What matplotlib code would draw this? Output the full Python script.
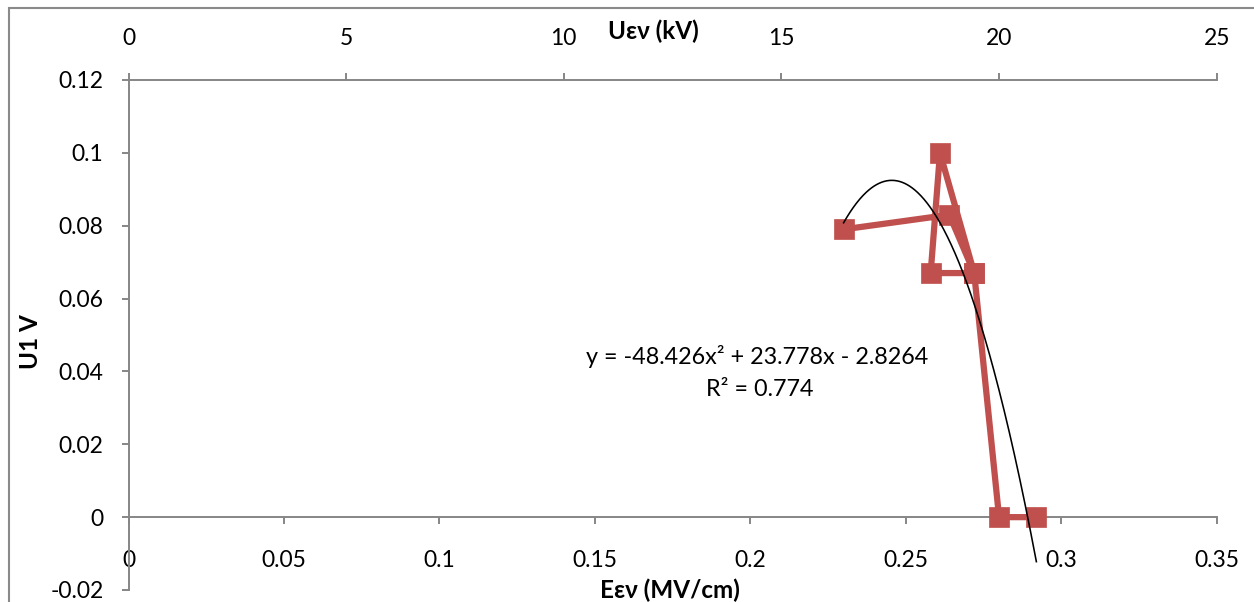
import matplotlib
matplotlib.use("Agg")
import matplotlib.pyplot as plt
import numpy as np
from matplotlib.patches import Rectangle

# Measured field strength (MV/cm) and U1 response (V), in acquisition order
e_field = [0.230, 0.264, 0.272, 0.261, 0.258, 0.272, 0.280, 0.292]
u1 = [0.079, 0.083, 0.067, 0.100, 0.067, 0.067, 0.000, 0.000]

# Second-order polynomial trend (coefficients as reported)
trend_a, trend_b, trend_c = -48.426, 23.778, -2.8264
trend_r2 = 0.774

x_ticks = [0, 0.05, 0.1, 0.15, 0.2, 0.25, 0.3, 0.35]
x_tick_labels = ["0", "0.05", "0.1", "0.15", "0.2", "0.25", "0.3", "0.35"]
y_ticks = [-0.02, 0, 0.02, 0.04, 0.06, 0.08, 0.1, 0.12]
y_tick_labels = ["-0.02", "0", "0.02", "0.04", "0.06", "0.08", "0.1", "0.12"]
top_ticks = [0, 5, 10, 15, 20, 25]
top_tick_labels = ["0", "5", "10", "15", "20", "25"]

FONT = ["Lato", "DejaVu Sans"]
plt.rcParams["font.family"] = FONT
FS = 16.5
FS_BOLD = 17.5

W, H = 1254, 602
fig = plt.figure(figsize=(W / 100, H / 100), dpi=100)

# chart frame
fig.patches.append(Rectangle((9 / W, -0.1), 1.2, 1 - 8 / H + 0.1,
                             transform=fig.transFigure, fill=False,
                             edgecolor="#8a8a8a", linewidth=1.5))

x0, x1 = 128.5, 1216.7
y_top, y_bot = 80, 590
ax = fig.add_axes([x0 / W, 1 - y_bot / H, (x1 - x0) / W, (y_bot - y_top) / H])
ax.patch.set_alpha(0)

AXC = "#868686"
series_color = "#C0504D"

ax.plot(e_field, u1, color=series_color, linewidth=4.5, marker="s",
        markersize=14, markeredgewidth=0.5, markeredgecolor=series_color,
        solid_joinstyle="round", zorder=3)

xt = np.linspace(min(e_field), max(e_field), 300)
yt = trend_a * xt ** 2 + trend_b * xt + trend_c
ax.plot(xt, yt, color="black", linewidth=1.15, zorder=4)

ax.set_xlim(0, 0.35)
ax.set_ylim(-0.02, 0.12)
ax.set_xticks(x_ticks)
ax.set_xticklabels(x_tick_labels)
ax.set_yticks(y_ticks)
ax.set_yticklabels(y_tick_labels)

for s in ["top", "right"]:
    ax.spines[s].set_visible(False)
ax.spines["bottom"].set_position(("data", 0))
for s in ["left", "bottom"]:
    ax.spines[s].set_color(AXC)
    ax.spines[s].set_linewidth(1.4)
ax.tick_params(axis="both", direction="out", length=5, width=1.4, color=AXC,
               labelsize=FS, labelcolor="black")
ax.tick_params(axis="y", pad=13)
ax.tick_params(axis="x", pad=19)

# secondary voltage axis along the top
ax2 = ax.twiny()
ax2.set_xlim(0, 25)
ax2.set_xticks(top_ticks)
ax2.set_xticklabels(top_tick_labels)
for s in ["bottom", "left", "right"]:
    ax2.spines[s].set_visible(False)
ax2.spines["top"].set_color(AXC)
ax2.spines["top"].set_linewidth(1.4)
ax2.tick_params(axis="x", direction="out", length=5, width=1.4, color=AXC,
                labelsize=FS, pad=17)

fig.text(757 / W, 1 - 357 / H, "y = -48.426x² + 23.778x - 2.8264",
         ha="center", va="center", fontsize=FS + 0.3)
fig.text(760 / W, 1 - 389 / H, f"R² = {trend_r2}",
         ha="center", va="center", fontsize=FS + 0.3)

fig.text(653 / W, 1 - 31 / H, "Uεν (kV)", ha="center", va="center",
         fontsize=FS_BOLD, fontweight="bold")
fig.text(670 / W, 1 - 590 / H, "Eεν (MV/cm)", ha="center", va="center",
         fontsize=FS_BOLD, fontweight="bold")
fig.text(30 / W, 1 - 342 / H, "U1 V", ha="center", va="center",
         rotation=90, fontsize=FS_BOLD, fontweight="bold")

fig.savefig("out.png", dpi=100)
